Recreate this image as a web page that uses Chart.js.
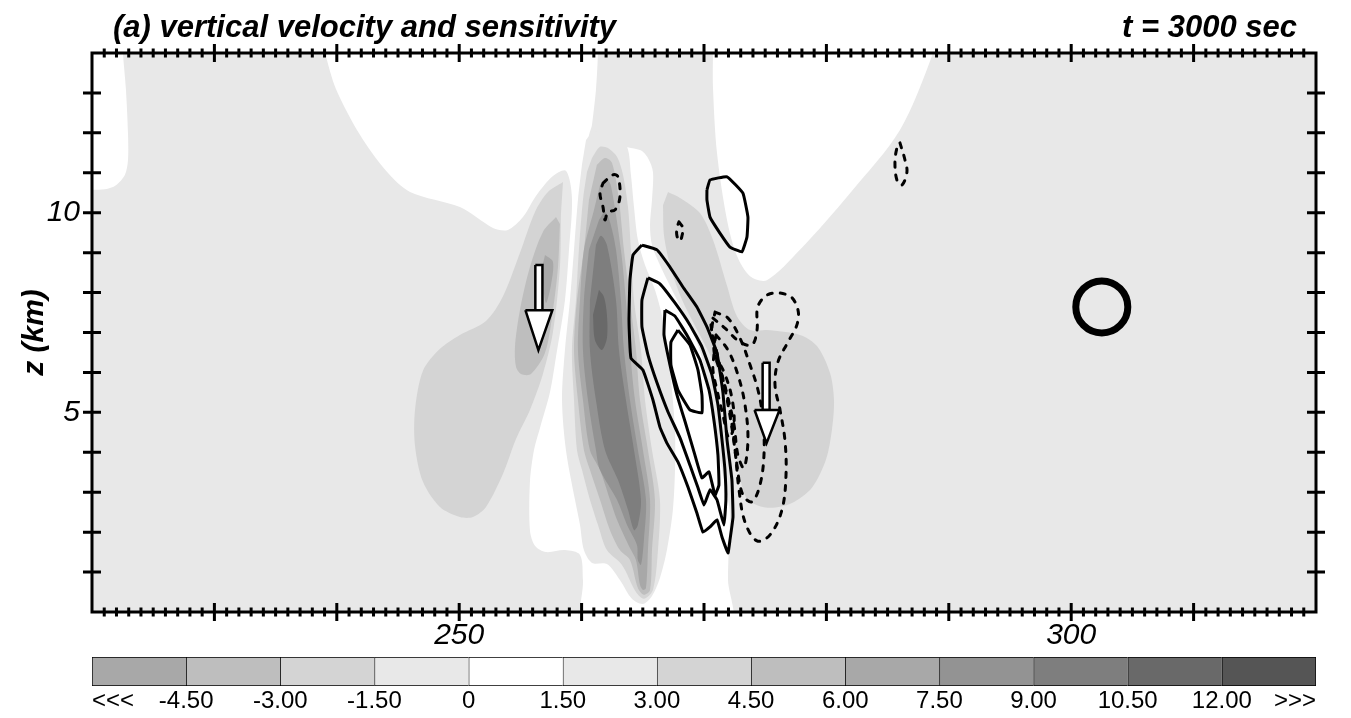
<!DOCTYPE html>
<html><head><meta charset="utf-8">
<script src="https://cdn.jsdelivr.net/npm/chart.js@4.4.1/dist/chart.umd.min.js"></script>
<style>
html,body{margin:0;padding:0;background:#fff;width:1351px;height:718px;overflow:hidden}
#main{position:absolute;left:0;top:0;width:1351px;height:645px}
#bar{position:absolute;left:0;top:645px;width:1351px;height:73px}
</style></head><body>
<canvas id="main" width="1351" height="645"></canvas>
<canvas id="bar" width="1351" height="73"></canvas>
<script>
// ---------- text ----------
const panelTitle = '(a) vertical velocity and sensitivity';
const timeLabel = 't = 3000 sec';
const yAxisTitle = 'z (km)';
const xTickLabels = [250, 300];
const zTickLabels = [5, 10];
const shadeLabels = ['<<<','-4.50','-3.00','-1.50','0','1.50','3.00','4.50','6.00','7.50','9.00','10.50','12.00','>>>'];
const shadeCellWidth = [1,1,1,1,1,1,1,1,1,1,1,1,1];

// ---------- shaded vertical velocity regions: [x, z] ----------
const wWhiteCorner = [[219.5,14.3],[222.53,14.3],[222.53,14.0],[222.77,13.10],[222.94,11.99],[222.94,11.32],[222.69,10.95],[221.96,10.69],[221.06,10.59],[219.5,10.57]];
const wWhiteMain = [[239.03,14.3],[261.34,14.3],[261.34,14.0],[261.17,13.07],[260.85,12.20],[260.68,11.82],[264.77,11.57],[265.42,11.37],[265.83,11.02],[265.75,10.32],[265.59,9.69],[265.75,9.19],[266.40,8.69],[267.38,8.07],[268.53,7.36],[269.51,6.69],[270.16,5.94],[270.57,5.06],[270.98,4.31],[271.47,3.56],[271.96,2.81],[272.12,2.48],[272.04,1.68],[271.96,0.80],[272.12,-0.3],[260.27,-0.3],[260.11,0.80],[259.87,1.43],[258.64,1.55],[257.09,1.50],[256.19,1.66],[255.78,2.05],[255.78,3.26],[256.11,4.06],[256.60,4.61],[257.42,5.51],[257.91,6.39],[258.64,7.81],[258.97,9.07],[259.21,10.37],[258.72,11.05],[257.66,10.92],[256.27,10.42],[255.21,9.89],[253.98,9.57],[252.76,9.62],[250.06,10.14],[245.98,10.52],[244.02,11.05],[241.89,11.95],[239.93,13.10],[239.03,14.0]];
const wWhiteTopRight = [[270.73,14.3],[288.71,14.3],[288.71,14.0],[286.01,12.07],[281.93,10.49],[277.84,9.07],[275.14,8.31],[273.76,8.41],[272.69,8.92],[271.88,9.82],[271.06,11.50],[270.73,13.17],[270.73,14.0]];
const wLeftLobe2 = [[258.48,10.77],[257.25,10.52],[256.19,10.02],[254.96,8.99],[253.58,7.91],[252.19,7.29],[250.06,6.94],[248.43,6.59],[247.04,6.04],[246.39,5.06],[246.39,4.16],[247.04,3.26],[248.43,2.63],[250.06,2.38],[251.12,2.38],[252.19,2.63],[253.58,3.46],[254.64,4.33],[255.78,5.06],[256.84,5.96],[257.66,7.01],[258.23,8.64],[258.31,9.97]];
const wLeftLobe3 = [[257.91,9.89],[256.84,9.52],[255.78,8.64],[254.96,7.56],[254.56,6.66],[254.64,6.14],[255.05,5.96],[255.86,5.96],[257.01,6.49],[257.66,7.56],[258.07,8.64],[258.23,9.72]];
const wLeftLobe4 = [[257.01,8.94],[257.66,8.77],[257.50,8.19],[257.09,7.74],[256.84,8.27],[256.84,8.72]];
const wCore1 = [[260.36,11.82],[260.85,11.99],[261.75,12.05],[262.73,11.92],[263.71,11.65],[264.03,10.95],[264.28,10.14],[264.60,9.32],[265.18,8.69],[265.99,8.07],[266.65,7.31],[267.06,6.56],[267.38,5.56],[267.63,4.56],[267.63,3.56],[267.46,2.56],[266.97,1.55],[266.40,0.85],[265.75,0.40],[265.01,0.20],[264.11,0.33],[263.13,0.80],[262.07,1.20],[260.85,1.23],[260.19,1.55],[259.87,2.18],[259.46,2.81],[258.72,4.06],[258.40,5.31],[258.64,6.56],[259.05,7.81],[259.38,9.07],[259.70,10.32],[260.03,11.20]];
const wCore2 = [[260.85,11.37],[261.50,11.65],[262.15,11.62],[262.89,11.40],[263.38,10.95],[263.79,10.14],[264.03,9.07],[264.28,7.81],[264.85,6.56],[265.18,5.31],[265.75,4.06],[266.40,2.81],[266.24,1.55],[265.83,0.55],[265.09,0.33],[264.44,0.50],[263.30,1.18],[262.07,1.55],[261.34,2.18],[260.68,2.81],[260.03,3.56],[259.62,4.06],[259.38,5.31],[259.21,6.56],[259.54,7.81],[259.78,9.07],[260.11,10.32],[260.44,11.02]];
const wCore3 = [[261.25,11.20],[261.91,11.37],[262.48,11.25],[263.05,10.32],[263.46,9.07],[263.95,7.81],[264.44,6.56],[264.77,5.31],[265.42,4.06],[265.99,2.81],[265.75,1.55],[265.59,0.55],[265.09,0.43],[264.60,0.60],[263.95,1.30],[263.13,1.55],[262.32,2.05],[261.50,2.81],[260.68,3.56],[260.19,4.06],[259.70,5.31],[259.38,6.56],[259.62,7.81],[260.19,9.07],[260.60,10.32]];
const wCore4 = [[261.50,10.69],[261.99,10.87],[262.40,10.67],[263.21,9.07],[263.62,7.81],[263.95,6.56],[264.36,5.31],[265.01,4.06],[265.59,2.81],[265.42,1.55],[265.26,0.60],[265.01,0.55],[264.77,0.68],[264.44,1.30],[263.95,1.60],[262.89,2.31],[262.32,2.81],[261.50,3.56],[260.68,4.06],[260.11,5.31],[259.70,6.56],[259.87,7.81],[260.19,9.07],[261.01,10.07]];
const wCore5 = [[261.42,9.82],[261.91,10.02],[262.32,9.77],[262.81,9.07],[263.21,7.81],[263.46,6.56],[263.95,5.31],[264.60,4.06],[265.26,2.81],[265.09,1.80],[264.85,1.18],[264.60,1.30],[264.52,1.68],[263.71,2.18],[262.89,2.81],[261.50,3.56],[261.17,4.06],[260.52,5.31],[260.11,6.56],[260.19,7.81],[260.60,9.07]];
const wCore6 = [[261.17,9.19],[261.58,9.42],[262.07,9.19],[262.81,7.81],[263.05,6.56],[263.62,5.31],[264.28,4.06],[264.85,2.81],[264.60,2.18],[264.28,2.05],[263.79,2.56],[262.97,3.31],[261.91,4.06],[261.17,5.31],[260.68,6.56],[260.68,7.81]];
const wCore7 = [[261.42,8.07],[261.83,7.89],[262.07,7.44],[262.07,6.86],[261.66,6.56],[261.09,6.81],[260.93,7.44]];
const wRightLobe2 = [[267.06,10.52],[268.04,10.37],[269.67,9.99],[270.73,9.32],[271.88,8.17],[272.69,7.41],[273.76,7.06],[275.14,7.06],[277.84,6.94],[279.23,6.66],[280.29,5.99],[280.62,5.31],[280.45,4.56],[279.96,3.81],[278.82,3.11],[277.19,2.73],[275.23,2.61],[273.59,2.81],[272.94,3.36],[272.61,4.06],[272.28,4.81],[271.71,5.56],[270.90,6.19],[270.08,6.69],[269.02,7.31],[268.04,7.94],[267.22,8.69],[266.73,9.44],[266.65,10.19]];

// ---------- sensitivity contours: [x, z] ----------
const sensPos1 = [[264.93,9.19],[266.16,9.07],[267.22,8.64],[268.28,8.14],[269.42,7.64],[270.24,7.14],[271.06,6.49],[271.55,5.49],[271.88,4.31],[272.28,3.31],[272.37,2.38],[272.12,1.80],[271.96,1.48],[271.47,1.88],[271.06,2.31],[270.49,2.13],[269.92,2.00],[269.42,2.48],[268.69,3.13],[267.87,3.76],[266.97,4.23],[266.40,4.63],[265.83,5.31],[265.01,6.06],[264.03,6.36],[263.87,7.31],[263.95,8.31],[264.20,8.94]];
const sensPos2 = [[265.42,8.37],[266.40,8.22],[267.63,7.74],[268.85,7.19],[269.83,6.64],[270.65,5.94],[271.14,5.19],[271.47,4.31],[271.71,3.56],[271.79,2.81],[271.63,2.18],[271.06,2.81],[270.49,3.06],[270.00,2.68],[269.51,3.11],[268.85,3.68],[268.04,4.36],[267.06,5.01],[266.16,5.74],[265.42,6.44],[264.93,7.14],[264.93,7.81]];
const sensPos3 = [[266.81,7.56],[267.63,7.41],[268.69,6.89],[269.67,6.31],[270.41,5.56],[270.81,4.81],[271.14,3.93],[271.22,3.18],[270.90,2.93],[270.41,3.51],[269.83,3.36],[269.26,3.93],[268.53,4.69],[267.79,5.44],[267.22,6.19],[266.73,6.94]];
const sensPos4 = [[267.87,7.06],[268.85,6.69],[269.51,6.06],[269.83,5.44],[269.83,4.99],[268.85,5.06],[267.87,5.56],[267.30,6.19],[267.30,6.76]];
const sensPos5 = [[270.24,10.57],[270.49,10.82],[271.88,10.90],[273.18,10.49],[273.59,9.89],[273.51,9.39],[273.10,9.02],[272.12,9.14],[271.30,9.49],[270.49,9.89],[270.24,10.32]];
const sensNeg1 = [[261.75,10.74],[262.56,10.95],[262.97,10.90],[263.13,10.39],[262.73,10.07],[262.15,10.02],[261.91,9.82],[261.75,10.14],[261.50,10.49]];
const sensNeg2 = [[267.95,9.77],[268.28,9.62],[268.20,9.42],[268.04,9.29],[267.79,9.42],[267.79,9.62]];
const sensNeg3 = [[286.01,11.75],[286.42,11.32],[286.58,11.02],[286.17,10.69],[285.76,10.82],[285.60,11.25],[285.76,11.62]];
const sensNeg4 = [[270.73,7.36],[271.71,7.11],[272.94,6.76],[273.92,6.69],[274.33,7.06],[274.41,7.66],[275.39,7.97],[277.02,7.91],[277.68,7.56],[277.59,7.19],[276.86,6.76],[276.04,6.26],[275.80,5.69],[276.21,5.06],[276.61,4.31],[276.70,3.43],[276.37,2.56],[275.39,1.93],[274.33,1.78],[273.35,2.25],[272.86,3.06],[272.53,4.06],[272.04,5.06],[271.47,5.94],[270.90,6.69],[270.57,7.19]];
const sensNeg5 = [[270.90,7.51],[271.96,7.36],[272.94,6.86],[273.76,6.19],[274.41,5.56],[274.82,4.81],[274.90,3.93],[274.57,3.18],[273.92,2.76],[273.18,2.93],[272.69,3.68],[272.37,4.51],[271.88,5.44],[271.14,6.31],[270.65,7.06]];
const sensNeg6 = [[270.98,6.94],[271.96,6.56],[272.77,5.94],[273.35,5.19],[273.59,4.31],[273.26,3.61],[272.77,3.93],[272.45,4.69],[271.88,5.44],[271.22,6.11],[270.81,6.56]];
const sensNeg7 = [[270.81,6.44],[271.63,6.01],[272.28,5.36],[272.45,4.69],[272.04,4.36],[271.55,4.93],[271.06,5.56],[270.73,6.06]];

// ---------- arrows and marker ----------
const arrowWestShaft = [[256.22,8.69],[256.80,8.69],[256.80,7.56],[256.22,7.56]];
const arrowWestHead = [[255.41,7.56],[257.61,7.56],[256.47,6.56]];
const arrowEastShaft = [[274.79,6.24],[275.36,6.24],[275.36,5.06],[274.79,5.06]];
const arrowEastHead = [[274.13,5.06],[276.17,5.06],[275.11,4.23]];
const ringCenter = [[302.5,7.64]];

// ---------- styles ----------
const FONT = "'Liberation Sans', Arial, Helvetica, sans-serif";
const BG = '#e8e8e8';
const shadeColors = ['#a8a8a8','#bebebe','#d4d4d4','#e8e8e8','#ffffff','#e8e8e8','#d4d4d4','#bebebe','#a8a8a8','#939393','#7e7e7e','#696969','#555555'];

const toXY = pts => pts.map(p => ({x: p[0], y: p[1]}));
const datasets = [];
let ord = 1000;
function addShade(pts, color) {
  datasets.push({data: toXY(pts), fill: 'shape', backgroundColor: color, borderWidth: 0,
    pointRadius: 0, pointHitRadius: 0, tension: 0.3, order: ord--});
}
function addContour(pts, dashed) {
  datasets.push({data: toXY(pts.concat([pts[0]])), fill: false, borderColor: '#000', borderWidth: 3,
    borderDash: dashed ? [5, 8] : [], borderCapStyle: dashed ? 'round' : 'butt', borderJoinStyle: 'round',
    pointRadius: 0, pointHitRadius: 0, tension: dashed ? 0.35 : 0.1, order: ord--});
}
function addArrowPart(pts) {
  datasets.push({data: toXY(pts.concat([pts[0]])), fill: 'shape', backgroundColor: '#fff', borderColor: '#000',
    borderWidth: 2.5, borderJoinStyle: 'miter', pointRadius: 0, pointHitRadius: 0, tension: 0, order: ord--});
}

addShade(wWhiteCorner, '#ffffff');
addShade(wWhiteMain, '#ffffff');
addShade(wWhiteTopRight, '#ffffff');
addShade(wLeftLobe2, '#d4d4d4');
addShade(wLeftLobe3, '#bebebe');
addShade(wLeftLobe4, '#a8a8a8');
addShade(wCore1, '#e8e8e8');
addShade(wCore2, '#d4d4d4');
addShade(wCore3, '#bebebe');
addShade(wCore4, '#a8a8a8');
addShade(wCore5, '#939393');
addShade(wCore6, '#7e7e7e');
addShade(wCore7, '#696969');
addShade(wRightLobe2, '#d4d4d4');
[sensPos1, sensPos2, sensPos3, sensPos4, sensPos5].forEach(p => addContour(p, false));
[sensNeg1, sensNeg2, sensNeg3, sensNeg4, sensNeg5, sensNeg6, sensNeg7].forEach(p => addContour(p, true));
addArrowPart(arrowWestShaft); addArrowPart(arrowWestHead);
addArrowPart(arrowEastShaft); addArrowPart(arrowEastHead);
datasets.push({data: toXY(ringCenter), showLine: false, pointStyle: 'circle', pointRadius: 26,
  pointBorderWidth: 7, pointBorderColor: '#000', pointBackgroundColor: 'rgba(0,0,0,0)', order: 0});

const areaBackground = {
  id: 'areaBackground',
  beforeDatasetsDraw(chart) {
    const {ctx, chartArea: a} = chart;
    ctx.save(); ctx.fillStyle = BG;
    ctx.fillRect(a.left, a.top, a.right - a.left, a.bottom - a.top);
    ctx.restore();
  }
};
const frameTicks = {
  id: 'frameTicks',
  afterDatasetsDraw(chart) {
    const {ctx, chartArea: a, scales: {x, y}} = chart;
    ctx.save();
    ctx.strokeStyle = '#000'; ctx.lineWidth = 3;
    ctx.strokeRect(a.left, a.top, a.right - a.left, a.bottom - a.top);
    ctx.beginPath();
    for (let v = x.min + 1; v < x.max; v += 1) {
      const px = x.getPixelForValue(v);
      const len = (v % 10 === 0) ? 9 : 4.5;
      ctx.moveTo(px, a.top - len); ctx.lineTo(px, a.top + len);
      ctx.moveTo(px, a.bottom - len); ctx.lineTo(px, a.bottom + len);
    }
    for (let v = y.min + 1; v < y.max; v += 1) {
      const py = y.getPixelForValue(v);
      ctx.moveTo(a.left - 9, py); ctx.lineTo(a.left + 9, py);
      ctx.moveTo(a.right - 9, py); ctx.lineTo(a.right + 9, py);
    }
    ctx.stroke();
    ctx.restore();
  }
};
const titles = {
  id: 'titles',
  afterDraw(chart) {
    const {ctx, chartArea: a} = chart;
    ctx.save();
    ctx.fillStyle = '#000';
    ctx.font = 'italic bold 31px ' + FONT;
    ctx.textBaseline = 'alphabetic';
    ctx.textAlign = 'left';
    ctx.fillText(panelTitle, a.left + 21, 37);
    ctx.textAlign = 'right';
    ctx.fillText(timeLabel, a.right - 19, 37);
    ctx.font = 'italic bold 30px ' + FONT;
    ctx.translate(43, (a.top + a.bottom) / 2);
    ctx.rotate(-Math.PI / 2);
    ctx.textAlign = 'center';
    ctx.fillText(yAxisTitle, 0, 0);
    ctx.restore();
  }
};

new Chart(document.getElementById('main'), {
  type: 'line',
  data: {datasets},
  options: {
    responsive: false, animation: false, events: [],
    layout: {padding: {left: 0, top: 53, right: 35, bottom: 0}},
    plugins: {legend: {display: false}, tooltip: {enabled: false}, title: {display: false}},
    scales: {
      x: {type: 'linear', min: 220, max: 320, position: 'bottom',
        grid: {display: false, drawTicks: false}, border: {display: false},
        afterBuildTicks: s => { s.ticks = xTickLabels.map(v => ({value: v})); },
        afterFit: s => { s.height = 33; },
        ticks: {autoSkip: false, maxRotation: 0, padding: 6, color: '#000',
          font: {family: FONT, size: 30, style: 'italic'}}},
      y: {type: 'linear', min: 0, max: 14,
        grid: {display: false, drawTicks: false}, border: {display: false},
        afterBuildTicks: s => { s.ticks = zTickLabels.map(v => ({value: v})); },
        afterFit: s => { s.width = 92; },
        ticks: {autoSkip: false, padding: 12, color: '#000',
          font: {family: FONT, size: 30, style: 'italic'}}}
    }
  },
  plugins: [areaBackground, frameTicks, titles]
});

new Chart(document.getElementById('bar'), {
  type: 'bar',
  data: {labels: [''], datasets: shadeCellWidth.map((w, i) => ({
    data: [w], backgroundColor: shadeColors[i], borderColor: '#000',
    borderWidth: {left: 1, top: 1, bottom: 1, right: i === shadeCellWidth.length - 1 ? 1 : 0},
    borderSkipped: false, barPercentage: 1, categoryPercentage: 1}))},
  options: {
    indexAxis: 'y', responsive: false, animation: false, events: [],
    layout: {padding: {left: 92, right: 35, top: 12, bottom: 0}},
    plugins: {legend: {display: false}, tooltip: {enabled: false}},
    scales: {
      x: {type: 'linear', stacked: true, min: 0, max: shadeCellWidth.length,
        grid: {display: false, drawTicks: false}, border: {display: false},
        afterBuildTicks: s => { s.ticks = shadeLabels.map((_, i) => ({value: i})); },
        afterFit: s => { s.height = 32; },
        ticks: {autoSkip: false, maxRotation: 0, padding: 1, align: 'inner', color: '#000',
          font: {family: FONT, size: 24}, callback: (v, i) => shadeLabels[i]}},
      y: {stacked: true, display: false}
    }
  }
});
</script>
</body></html>
